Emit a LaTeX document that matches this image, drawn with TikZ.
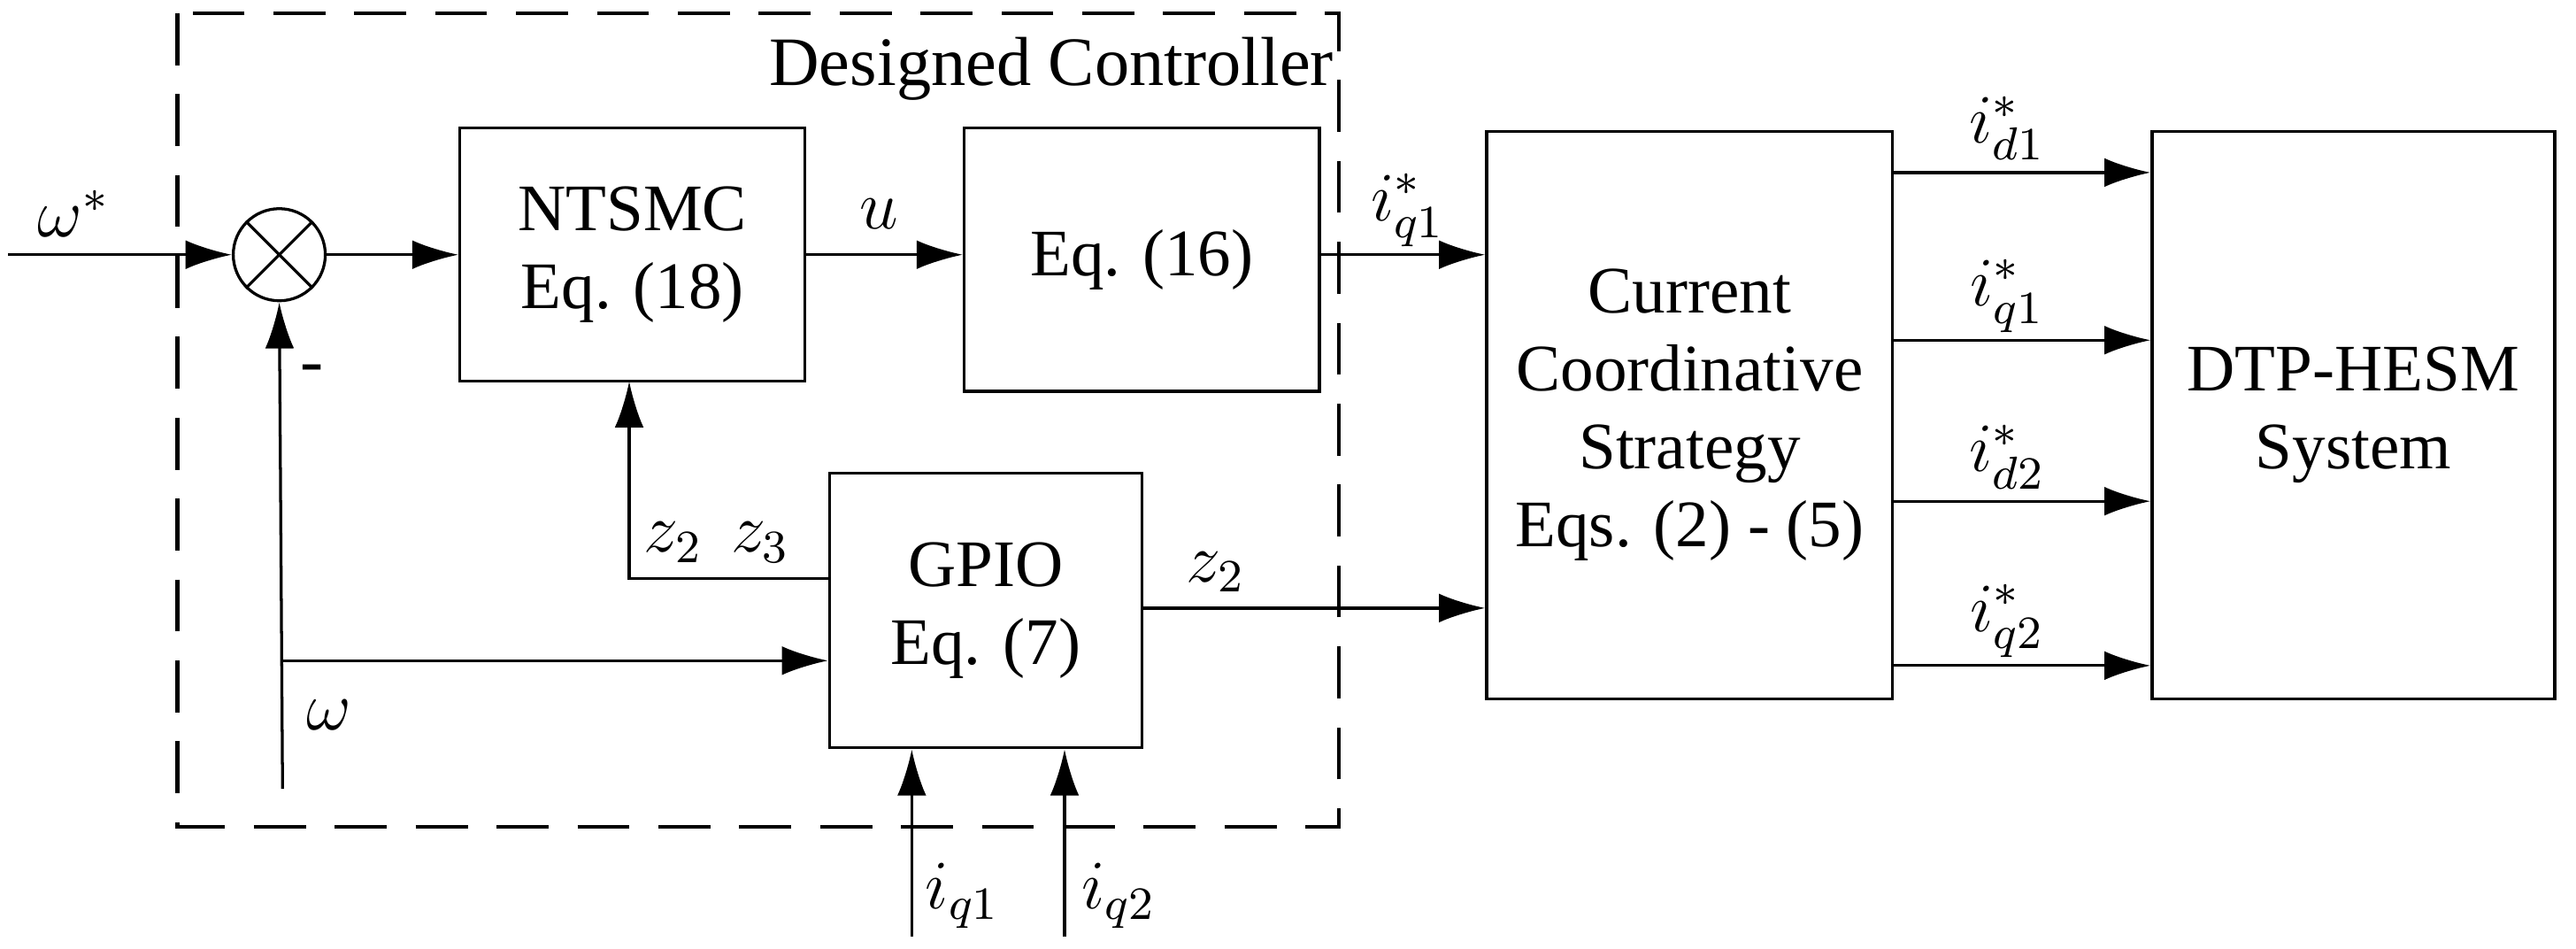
\documentclass[tikz,border=0pt]{standalone}
\usepackage{fontspec}
\setmainfont{Liberation Serif}
\newfontfamily\tms{Liberation Serif}
\usetikzlibrary{arrows.meta}
\begin{document}
\begin{tikzpicture}[x=0.01cm,y=-0.01cm,font=\tms\fontsize{11.5}{13.5}\selectfont,
  blk/.style={draw,line width=0.5pt,align=center,inner sep=0},
  arr/.style={-{Latex[length=8pt,width=5pt]},line width=0.5pt},
  ln/.style={line width=0.5pt},
  lab/.style={font=\tms\fontsize{12}{14}\selectfont}]
\useasboundingbox (0,0) rectangle (1568,577);
\draw[dashed,line width=0.7pt,dash pattern=on 9pt off 5pt] (108,8) rectangle (815,503);
\node[lab] (dc) at (640,42) {Designed Controller};
\node[draw,circle,minimum size=0.56cm,inner sep=0,line width=0.5pt] (sum) at (170,155) {};
\draw[ln] (sum.north west)--(sum.south east) (sum.north east)--(sum.south west);
\node[blk,minimum width=2.10cm,minimum height=1.54cm] (nts) at (385,155) {NTSMC\\Eq. (18)};
\node[blk,minimum width=2.16cm,minimum height=1.60cm] (e16) at (695,158) {Eq. (16)};
\node[blk,minimum width=2.47cm,minimum height=3.45cm] (ccs) at (1028.5,252.5) {Current\\Coordinative\\Strategy\\Eqs. (2) - (5)};
\node[blk,minimum width=2.45cm,minimum height=3.45cm] (dtp) at (1432.5,252.5) {DTP-HESM\\System};
\node[blk,minimum width=1.90cm,minimum height=1.67cm] (gp) at (600,371.5) {GPIO\\Eq. (7)};
\coordinate (in) at (5,155);
\draw[arr] (in) -- (sum.west);
\node[lab] at (45,130) {$\omega^*$};
\draw[arr] (sum.east) -- (nts.west);
\draw[arr] (nts.east) -- (e16.west|-nts.east);
\node[lab] at (535,130) {$u$};
\coordinate (e16o) at (803,155);
\draw[arr] (e16o) -- (ccs.west|-e16o);
\node[lab] at (857,128) {$i_{q1}^*$};
\foreach \y/\t in {105/{i_{d1}^*},207/{i_{q1}^*},305/{i_{d2}^*},405/{i_{q2}^*}}{
  \coordinate (o\y) at (1152,\y);
  \draw[arr] (o\y) -- (dtp.west|-o\y);
  \node[lab] at (1222,\y-27) {$\t$};
}
\coordinate (gz) at (695,370);
\draw[arr] (gz) -- (ccs.west|-gz);
\node[lab] at (740,348) {$z_2$};
\coordinate (gl) at (505,352);
\coordinate (nb) at (383,232);
\draw[arr] (gl) -| (nb);
\node[lab] at (410,330) {$z_2$};
\node[lab] at (463,330) {$z_3$};
\coordinate (fb) at (172,480);
\coordinate (fj) at (172,402);
\draw[arr] (fb) -- (sum.south);
\draw[arr] (fj) -- (gp.west|-fj);
\node[lab] at (190,228) {-};
\node[lab] at (200,435) {$\omega$};
\coordinate (i1) at (555,570);
\coordinate (i2) at (648,570);
\draw[arr] (i1) -- (i1|-gp.south);
\draw[arr] (i2) -- (i2|-gp.south);
\node[lab] at (586,545) {$i_{q1}$};
\node[lab] at (681,545) {$i_{q2}$};
\end{tikzpicture}
\end{document}
